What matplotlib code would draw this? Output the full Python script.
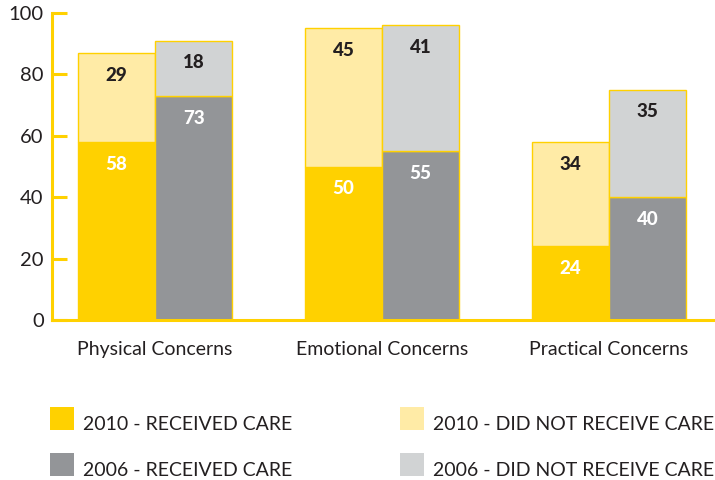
import matplotlib
matplotlib.use("Agg")
import matplotlib.pyplot as plt
from matplotlib.patches import Rectangle
import numpy as np

plt.rcParams['font.family'] = ['Lato', 'DejaVu Sans']

categories = ["Physical Concerns", "Emotional Concerns", "Practical Concerns"]
received_2010 = [58, 50, 24]
not_received_2010 = [29, 45, 34]
received_2006 = [73, 55, 40]
not_received_2006 = [18, 41, 35]
series_names = ["2010 - RECEIVED CARE", "2010 - DID NOT RECEIVE CARE",
                "2006 - RECEIVED CARE", "2006 - DID NOT RECEIVE CARE"]
y_ticks = [0, 20, 40, 60, 80, 100]

YELLOW = "#FFD100"
LIGHT_YELLOW = "#FFEBA6"
DARK_GRAY = "#939598"
LIGHT_GRAY = "#D1D3D4"
TEXT = "#231F20"

fig = plt.figure(figsize=(7.15, 4.8), dpi=100)
ax = fig.add_axes([52 / 715, 160 / 480, 663 / 715, 307 / 480])

x = np.arange(len(categories))
w = 0.34

def stacked(xpos, bottom_vals, top_vals, c_bottom, c_top, bottom_txt):
    ax.bar(xpos, bottom_vals, w, color=c_bottom, edgecolor=YELLOW, linewidth=1.0, zorder=2)
    ax.bar(xpos, top_vals, w, bottom=bottom_vals, color=c_top, edgecolor=YELLOW,
           linewidth=1.0, zorder=2)
    for xi, b, t in zip(xpos, bottom_vals, top_vals):
        ax.annotate(f"{b}", (xi, b), xytext=(0, -16), textcoords="offset points",
                    ha="center", va="center", fontsize=13.5, fontweight="black", color=bottom_txt)
        ax.annotate(f"{t}", (xi, b + t), xytext=(0, -16), textcoords="offset points",
                    ha="center", va="center", fontsize=13.5, fontweight="black", color=TEXT)

stacked(x - w / 2, received_2010, not_received_2010, YELLOW, LIGHT_YELLOW, "white")
stacked(x + w / 2, received_2006, not_received_2006, DARK_GRAY, LIGHT_GRAY, "white")

ax.set_xlim(-0.454, 2.467)
ax.set_ylim(0, 100)
ax.set_yticks(y_ticks)
ax.set_yticklabels([str(v) for v in y_ticks], fontsize=14.5, color=TEXT)
ax.tick_params(axis="y", direction="in", length=11, width=2.2, color=YELLOW, pad=6)
ax.set_xticks(x)
ax.set_xticklabels(categories, fontsize=14, color=TEXT)
ax.tick_params(axis="x", length=0, pad=15)

for s in ["top", "right"]:
    ax.spines[s].set_visible(False)
for s in ["left", "bottom"]:
    ax.spines[s].set_color(YELLOW)
    ax.spines[s].set_linewidth(2.2)
ax.spines["left"].set_zorder(3)
ax.spines["bottom"].set_zorder(3)

# legend laid out in a 2x2 grid below the axes
colors = [YELLOW, LIGHT_YELLOW, DARK_GRAY, LIGHT_GRAY]
swatch_xy = [(50, 407), (400, 407), (50, 453), (400, 453)]
for name, col, (px, py) in zip(series_names, colors, swatch_xy):
    fig.add_artist(Rectangle((px / 715, (480 - py - 23) / 480), 24 / 715, 23 / 480,
                             transform=fig.transFigure, facecolor=col, edgecolor="none"))
    fig.text((px + 33) / 715, (480 - py - 23) / 480, name, fontsize=14, color=TEXT,
             ha="left", va="baseline")

fig.savefig("out.png", dpi=100)
